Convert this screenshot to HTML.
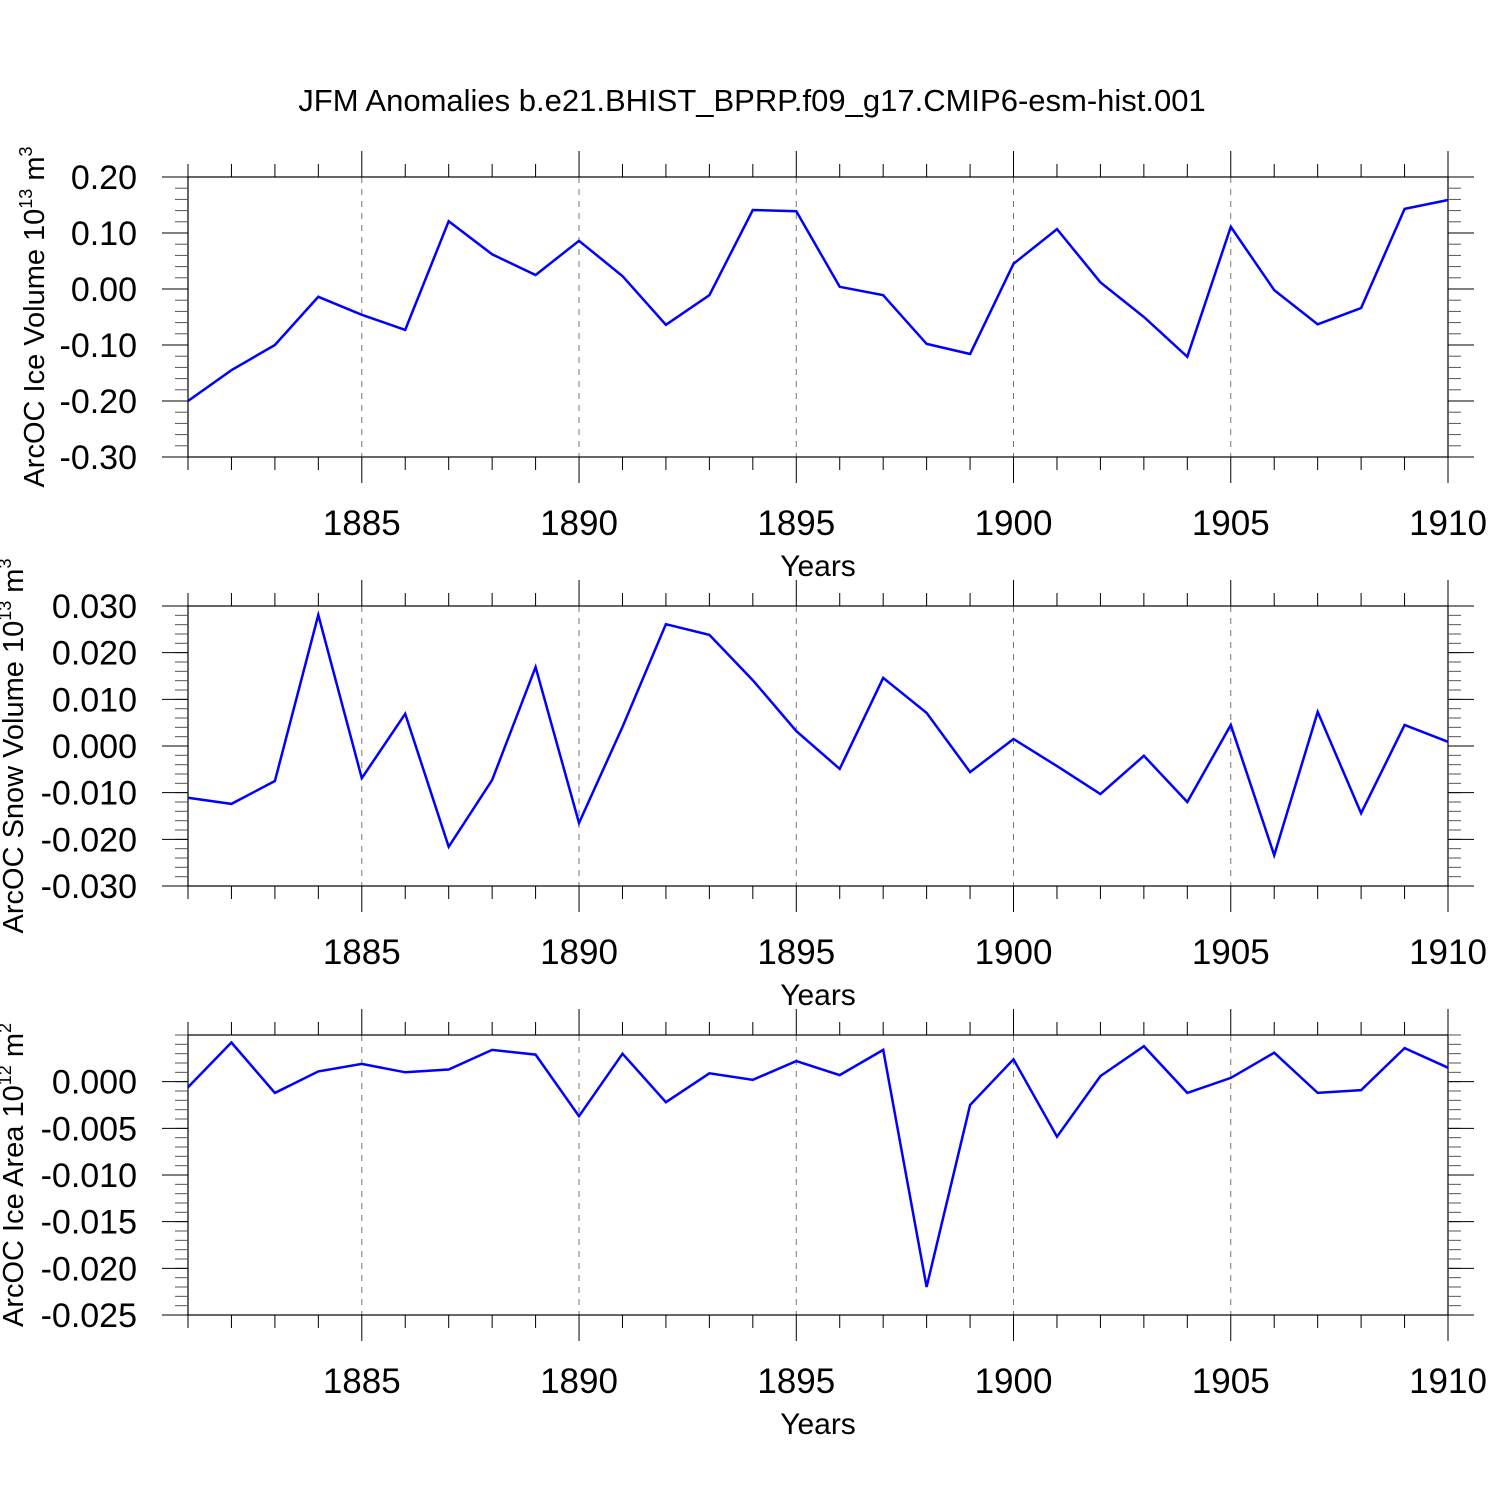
<!DOCTYPE html>
<html><head><meta charset="utf-8"><style>
html,body{margin:0;padding:0;background:#fff;}
svg{display:block;font-family:"Liberation Sans",Arial,sans-serif;}
</style></head><body>
<svg id="chart" width="1500" height="1500" viewBox="0 0 1500 1500" xmlns="http://www.w3.org/2000/svg">
<text x="752" y="111" font-size="31" text-anchor="middle">JFM Anomalies b.e21.BHIST_BPRP.f09_g17.CMIP6-esm-hist.001</text>
</svg>
<script>
const years = [1881,1882,1883,1884,1885,1886,1887,1888,1889,1890,1891,1892,1893,1894,1895,1896,1897,1898,1899,1900,1901,1902,1903,1904,1905,1906,1907,1908,1909,1910];
const iceVolume = [-0.200,-0.145,-0.100,-0.014,-0.046,-0.073,0.121,0.062,0.025,0.086,0.023,-0.064,-0.011,0.141,0.139,0.004,-0.011,-0.098,-0.116,0.045,0.107,0.012,-0.050,-0.121,0.111,-0.002,-0.063,-0.034,0.143,0.159];
const snowVolume = [-0.0111,-0.0124,-0.0075,0.0281,-0.0069,0.0069,-0.0216,-0.0073,0.0169,-0.0165,0.0041,0.0261,0.0238,0.0141,0.0032,-0.0049,0.0146,0.0071,-0.0056,0.0015,-0.0043,-0.0103,-0.0021,-0.0120,0.0045,-0.0234,0.0073,-0.0144,0.0045,0.0009];
const iceArea = [-0.0006,0.0042,-0.0012,0.0011,0.0019,0.0010,0.0013,0.0034,0.0029,-0.0037,0.0030,-0.0022,0.0009,0.0002,0.0022,0.0007,0.0034,-0.0220,-0.0025,0.0024,-0.0059,0.0006,0.0038,-0.0012,0.0004,0.0031,-0.0012,-0.0009,0.0036,0.0015];
const xTickYears = [1885,1890,1895,1900,1905,1910];
const iceVolTicks = [0.20,0.10,0.00,-0.10,-0.20,-0.30];
const snowTicks = [0.030,0.020,0.010,0.000,-0.010,-0.020,-0.030];
const areaTicks = [0.000,-0.005,-0.010,-0.015,-0.020,-0.025];

const NS = "http://www.w3.org/2000/svg";
const svg = document.getElementById('chart');
const X0 = 188, X1 = 1448;
const xMin = 1881, xMax = 1910;
function xs(v){ return X0 + (v - xMin) / (xMax - xMin) * (X1 - X0); }
function mk(tag, attrs, parent){
  const e = document.createElementNS(NS, tag);
  for (const k in attrs) e.setAttribute(k, attrs[k]);
  (parent || svg).appendChild(e);
  return e;
}

const panels = [
  {name:'ice-volume', top:177, bot:457, ymin:-0.30, ymax:0.20, minor:0.02, ticks:iceVolTicks, dec:2, data:iceVolume, label:'ArcOC Ice Volume 10', sup:'13', unit:' m', usup:'3', lx:34},
  {name:'snow-volume', top:606, bot:886, ymin:-0.030, ymax:0.030, minor:0.002, ticks:snowTicks, dec:3, data:snowVolume, label:'ArcOC Snow Volume 10', sup:'13', unit:' m', usup:'3', lx:13},
  {name:'ice-area', top:1035, bot:1315, ymin:-0.025, ymax:0.005, minor:0.001, ticks:areaTicks, dec:3, data:iceArea, label:'ArcOC Ice Area 10', sup:'12', unit:' m', usup:'2', lx:13}
];

panels.forEach(p => {
  const g = mk('g', {});
  
  
  const ys = v => p.bot - (v - p.ymin) / (p.ymax - p.ymin) * (p.bot - p.top);
  xTickYears.forEach(yr => {
    if (yr === xMax) return;
    const l = mk('line', {x1:xs(yr), x2:xs(yr), y1:p.top, y2:p.bot, stroke:'#777', 'stroke-width':1, 'stroke-dasharray':'6,6'}, g);
    
    
  });
  const fr = mk('rect', {x:X0, y:p.top, width:X1-X0, height:p.bot-p.top, fill:'none', stroke:'#000', 'stroke-width':1.2}, g);
  
  
  for (let yr = xMin; yr <= xMax; yr++) {
    const major = yr % 5 === 0;
    const len = major ? 26 : 13;
    const x = xs(yr);
    mk('line', {x1:x, x2:x, y1:p.top, y2:p.top-len, stroke:'#000', 'stroke-width':1}, g);
    mk('line', {x1:x, x2:x, y1:p.bot, y2:p.bot+len, stroke:'#000', 'stroke-width':1}, g);
  }
  xTickYears.forEach(yr => {
    const t = mk('text', {x:xs(yr), y:p.bot+78, 'font-size':35, 'text-anchor':'middle'}, g);
    t.textContent = yr;
    
    
  });
  const xt = mk('text', {x:818, y:p.bot+119, 'font-size':30, 'text-anchor':'middle'}, g);
  xt.textContent = 'Years';
  
  
  const nMinor = Math.round((p.ymax - p.ymin) / p.minor);
  for (let i = 0; i <= nMinor; i++) {
    const v = p.ymin + i * p.minor;
    const y = ys(v);
    mk('line', {x1:X0, x2:X0-13, y1:y, y2:y, stroke:'#555', 'stroke-width':1}, g);
    mk('line', {x1:X1, x2:X1+13, y1:y, y2:y, stroke:'#555', 'stroke-width':1}, g);
  }
  p.ticks.forEach(v => {
    const y = ys(v);
    mk('line', {x1:X0, x2:X0-26, y1:y, y2:y, stroke:'#000', 'stroke-width':1}, g);
    mk('line', {x1:X1, x2:X1+26, y1:y, y2:y, stroke:'#000', 'stroke-width':1}, g);
    const t = mk('text', {x:137, y:y+12, 'font-size':34, 'text-anchor':'end'}, g);
    t.textContent = v.toFixed(p.dec);
    
    
  });
  const cy = (p.top + p.bot) / 2;
  const yt = mk('text', {x:p.lx, y:cy, 'font-size':29, 'text-anchor':'middle', transform:'rotate(-90 ' + p.lx + ' ' + cy + ')', dy:'0.35em'}, g);
  
  
  const a = mk('tspan', {}, yt); a.textContent = p.label;
  const b = mk('tspan', {dy:-12, 'font-size':18}, yt); b.textContent = p.sup;
  const c = mk('tspan', {dy:12}, yt); c.textContent = p.unit;
  const d = mk('tspan', {dy:-12, 'font-size':18}, yt); d.textContent = p.usup;
  const pts = p.data.map((v, i) => xs(years[i]).toFixed(1) + ',' + ys(v).toFixed(1)).join(' ');
  const pl = mk('polyline', {points:pts, fill:'none', stroke:'#0000ff', 'stroke-width':2.5, 'stroke-linejoin':'miter'}, g);
  
  
});
</script>
</body></html>
